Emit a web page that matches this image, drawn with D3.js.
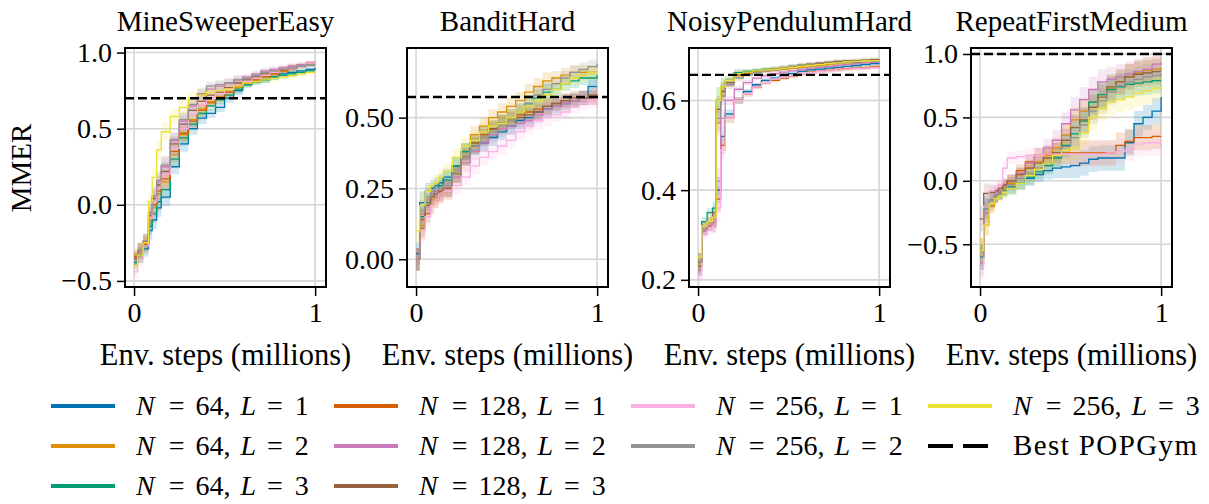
<!DOCTYPE html>
<html>
<head>
<meta charset="utf-8">
<script src="https://cdn.jsdelivr.net/npm/d3@7"></script>
<style>
  body { margin: 0; background: #fff; }
  text { font-family: "Liberation Serif", "Times New Roman", serif; fill: #000; }
</style>
</head>
<body>
<div id="chart"></div>
<script>
// env steps (millions) at which every curve is sampled
const steps = [0, 0.02, 0.05, 0.08, 0.1, 0.125, 0.15, 0.2, 0.25, 0.3, 0.35, 0.4, 0.45, 0.5, 0.55, 0.6, 0.65, 0.7, 0.75, 0.8, 0.85, 0.9, 0.95, 1.0];

// series order: (64,1) (64,2) (64,3) (128,1) (128,2) (128,3) (256,1) (256,2) (256,3)
const configs = [[64, 1], [64, 2], [64, 3], [128, 1], [128, 2], [128, 3], [256, 1], [256, 2], [256, 3]];
const colors = ["#0173b2", "#de8f05", "#029e73", "#d55e00", "#cc78bc", "#956340", "#fbafe4", "#949494", "#ece133"];

const titles = ["MineSweeperEasy", "BanditHard", "NoisyPendulumHard", "RepeatFirstMedium"];
const bestPopgym = [0.70, 0.573, 0.657, 1.0];

const mineSweeperEasy = [
  [-0.36, -0.33, -0.29, -0.17, -0.10, -0.02, 0.05, 0.25, 0.40, 0.50, 0.57, 0.60, 0.64, 0.70, 0.75, 0.79, 0.81, 0.82, 0.84, 0.86, 0.87, 0.88, 0.89, 0.90],
  [-0.33, -0.30, -0.25, -0.10, -0.02, 0.07, 0.15, 0.33, 0.46, 0.56, 0.63, 0.68, 0.71, 0.74, 0.77, 0.80, 0.82, 0.84, 0.86, 0.88, 0.90, 0.91, 0.93, 0.94],
  [-0.38, -0.33, -0.27, -0.14, -0.06, 0.02, 0.10, 0.30, 0.44, 0.53, 0.60, 0.65, 0.69, 0.72, 0.76, 0.79, 0.81, 0.82, 0.84, 0.85, 0.86, 0.87, 0.88, 0.88],
  [-0.34, -0.31, -0.26, -0.09, 0.00, 0.09, 0.17, 0.35, 0.47, 0.55, 0.62, 0.67, 0.70, 0.74, 0.78, 0.80, 0.82, 0.84, 0.86, 0.88, 0.90, 0.92, 0.93, 0.94],
  [-0.37, -0.31, -0.24, -0.06, 0.05, 0.15, 0.25, 0.42, 0.55, 0.65, 0.72, 0.76, 0.78, 0.80, 0.82, 0.84, 0.86, 0.88, 0.89, 0.90, 0.91, 0.92, 0.93, 0.93],
  [-0.35, -0.30, -0.24, -0.07, 0.04, 0.13, 0.22, 0.40, 0.53, 0.62, 0.68, 0.72, 0.74, 0.77, 0.80, 0.82, 0.84, 0.86, 0.87, 0.89, 0.90, 0.91, 0.92, 0.92],
  [-0.44, -0.36, -0.27, -0.09, 0.02, 0.11, 0.20, 0.37, 0.50, 0.60, 0.66, 0.70, 0.73, 0.76, 0.79, 0.81, 0.83, 0.85, 0.87, 0.89, 0.90, 0.91, 0.93, 0.94],
  [-0.36, -0.30, -0.24, -0.05, 0.06, 0.16, 0.26, 0.43, 0.56, 0.66, 0.73, 0.78, 0.79, 0.80, 0.82, 0.83, 0.85, 0.87, 0.88, 0.89, 0.90, 0.91, 0.92, 0.92],
  [-0.40, -0.33, -0.25, 0.02, 0.18, 0.36, 0.48, 0.58, 0.64, 0.70, 0.72, 0.74, 0.75, 0.76, 0.78, 0.80, 0.81, 0.82, 0.83, 0.84, 0.85, 0.86, 0.87, 0.88]
];

const banditHard = [
  [0.02, 0.20, 0.24, 0.25, 0.26, 0.27, 0.29, 0.33, 0.38, 0.40, 0.41, 0.43, 0.45, 0.47, 0.49, 0.50, 0.52, 0.53, 0.54, 0.55, 0.56, 0.57, 0.61, 0.61],
  [0.00, 0.12, 0.19, 0.21, 0.22, 0.23, 0.24, 0.30, 0.38, 0.44, 0.47, 0.50, 0.52, 0.54, 0.56, 0.59, 0.61, 0.63, 0.64, 0.65, 0.66, 0.66, 0.66, 0.66],
  [0.00, 0.15, 0.20, 0.23, 0.24, 0.26, 0.28, 0.33, 0.38, 0.41, 0.44, 0.46, 0.48, 0.50, 0.52, 0.55, 0.57, 0.59, 0.60, 0.62, 0.63, 0.64, 0.64, 0.65],
  [0.00, 0.11, 0.16, 0.19, 0.21, 0.23, 0.25, 0.30, 0.36, 0.41, 0.44, 0.46, 0.48, 0.50, 0.51, 0.52, 0.53, 0.54, 0.55, 0.56, 0.56, 0.57, 0.57, 0.58],
  [0.00, 0.16, 0.21, 0.23, 0.24, 0.25, 0.25, 0.29, 0.34, 0.38, 0.41, 0.44, 0.46, 0.47, 0.48, 0.49, 0.51, 0.53, 0.54, 0.55, 0.56, 0.57, 0.57, 0.58],
  [0.00, 0.14, 0.19, 0.22, 0.23, 0.24, 0.25, 0.30, 0.36, 0.40, 0.43, 0.46, 0.48, 0.49, 0.50, 0.51, 0.52, 0.54, 0.55, 0.56, 0.57, 0.57, 0.58, 0.58],
  [0.00, 0.10, 0.15, 0.19, 0.21, 0.23, 0.24, 0.26, 0.29, 0.33, 0.36, 0.38, 0.40, 0.42, 0.45, 0.47, 0.49, 0.50, 0.51, 0.52, 0.54, 0.55, 0.56, 0.57],
  [0.00, 0.17, 0.22, 0.24, 0.25, 0.25, 0.26, 0.30, 0.36, 0.40, 0.43, 0.45, 0.47, 0.49, 0.52, 0.55, 0.58, 0.60, 0.62, 0.64, 0.66, 0.67, 0.68, 0.69],
  [0.10, 0.19, 0.24, 0.26, 0.27, 0.29, 0.31, 0.36, 0.40, 0.42, 0.45, 0.47, 0.48, 0.50, 0.52, 0.54, 0.56, 0.58, 0.60, 0.62, 0.64, 0.65, 0.66, 0.665]
];

const noisyPendulumHard = [
  [0.23, 0.31, 0.32, 0.33, 0.40, 0.52, 0.57, 0.60, 0.62, 0.635, 0.645, 0.65, 0.655, 0.66, 0.665, 0.668, 0.67, 0.672, 0.674, 0.676, 0.678, 0.68, 0.682, 0.683],
  [0.24, 0.32, 0.33, 0.34, 0.55, 0.62, 0.64, 0.655, 0.66, 0.663, 0.666, 0.668, 0.67, 0.672, 0.674, 0.676, 0.678, 0.68, 0.682, 0.684, 0.685, 0.686, 0.687, 0.688],
  [0.24, 0.33, 0.35, 0.36, 0.60, 0.63, 0.645, 0.662, 0.665, 0.667, 0.669, 0.671, 0.673, 0.675, 0.677, 0.679, 0.681, 0.683, 0.684, 0.685, 0.686, 0.687, 0.688, 0.689],
  [0.23, 0.31, 0.32, 0.32, 0.38, 0.50, 0.56, 0.60, 0.615, 0.63, 0.64, 0.645, 0.65, 0.655, 0.66, 0.663, 0.665, 0.667, 0.669, 0.671, 0.672, 0.673, 0.675, 0.677],
  [0.22, 0.31, 0.32, 0.33, 0.42, 0.56, 0.60, 0.625, 0.64, 0.65, 0.655, 0.66, 0.663, 0.666, 0.669, 0.672, 0.674, 0.676, 0.678, 0.68, 0.682, 0.684, 0.685, 0.686],
  [0.24, 0.32, 0.33, 0.35, 0.58, 0.62, 0.64, 0.658, 0.662, 0.665, 0.668, 0.67, 0.673, 0.676, 0.679, 0.681, 0.683, 0.685, 0.687, 0.688, 0.689, 0.69, 0.691, 0.692],
  [0.21, 0.30, 0.31, 0.32, 0.36, 0.49, 0.56, 0.60, 0.615, 0.63, 0.64, 0.648, 0.652, 0.656, 0.66, 0.662, 0.664, 0.666, 0.668, 0.67, 0.671, 0.672, 0.673, 0.674],
  [0.24, 0.32, 0.33, 0.34, 0.56, 0.61, 0.635, 0.65, 0.657, 0.662, 0.666, 0.669, 0.672, 0.675, 0.677, 0.679, 0.681, 0.683, 0.684, 0.685, 0.686, 0.687, 0.688, 0.689],
  [0.25, 0.32, 0.33, 0.34, 0.60, 0.63, 0.645, 0.66, 0.663, 0.666, 0.668, 0.67, 0.672, 0.674, 0.676, 0.678, 0.68, 0.682, 0.684, 0.686, 0.687, 0.688, 0.689, 0.69]
];

const repeatFirstMedium = [
  [-0.60, -0.22, -0.15, -0.12, -0.10, -0.07, -0.05, -0.02, 0.02, 0.05, 0.08, 0.10, 0.11, 0.12, 0.14, 0.17, 0.18, 0.18, 0.18, 0.30, 0.45, 0.50, 0.55, 0.66],
  [-0.55, -0.35, -0.20, -0.12, -0.10, -0.06, -0.02, 0.05, 0.10, 0.15, 0.20, 0.26, 0.36, 0.48, 0.55, 0.62, 0.68, 0.73, 0.78, 0.82, 0.85, 0.87, 0.88, 0.89],
  [-0.60, -0.20, -0.15, -0.12, -0.10, -0.08, -0.06, -0.02, 0.03, 0.07, 0.12, 0.18, 0.28, 0.37, 0.47, 0.62, 0.68, 0.72, 0.74, 0.76, 0.77, 0.78, 0.79, 0.79],
  [-0.55, -0.25, -0.18, -0.12, -0.08, -0.04, 0.00, 0.08, 0.15, 0.20, 0.21, 0.22, 0.22, 0.22, 0.22, 0.22, 0.22, 0.22, 0.28, 0.31, 0.34, 0.34, 0.35, 0.35],
  [-0.65, -0.25, -0.15, -0.10, -0.08, -0.04, 0.00, 0.06, 0.14, 0.20, 0.26, 0.32, 0.45, 0.56, 0.64, 0.72, 0.78, 0.80, 0.82, 0.84, 0.86, 0.88, 0.92, 0.93],
  [-0.30, -0.10, -0.09, -0.08, -0.06, -0.03, 0.00, 0.05, 0.10, 0.14, 0.18, 0.22, 0.32, 0.42, 0.48, 0.58, 0.66, 0.74, 0.78, 0.82, 0.84, 0.85, 0.86, 0.86],
  [-0.68, -0.20, -0.08, -0.05, -0.03, 0.10, 0.18, 0.19, 0.20, 0.20, 0.21, 0.21, 0.21, 0.21, 0.21, 0.21, 0.21, 0.22, 0.23, 0.25, 0.29, 0.30, 0.30, 0.30],
  [-0.60, -0.22, -0.15, -0.12, -0.10, -0.07, -0.03, 0.02, 0.06, 0.10, 0.14, 0.19, 0.27, 0.34, 0.44, 0.55, 0.63, 0.70, 0.75, 0.78, 0.80, 0.82, 0.83, 0.84],
  [-0.55, -0.35, -0.18, -0.14, -0.12, -0.09, -0.06, -0.02, 0.04, 0.09, 0.14, 0.20, 0.24, 0.26, 0.38, 0.50, 0.57, 0.62, 0.64, 0.66, 0.69, 0.71, 0.73, 0.74]
];

// half width of the shaded band around each curve
const spreadMSE = [0.04, 0.05, 0.05, 0.06, 0.06, 0.06, 0.06, 0.05, 0.05, 0.04, 0.04, 0.03, 0.03, 0.03, 0.03, 0.02, 0.02, 0.02, 0.02, 0.02, 0.02, 0.015, 0.015, 0.015];
const spreadBH = [0.04, 0.04, 0.03, 0.03, 0.03, 0.03, 0.03, 0.03, 0.03, 0.03, 0.03, 0.03, 0.03, 0.03, 0.03, 0.03, 0.03, 0.03, 0.025, 0.025, 0.025, 0.025, 0.025, 0.025];
const spreadNPH = [0.02, 0.01, 0.01, 0.015, 0.03, 0.02, 0.01, 0.008, 0.006, 0.005, 0.005, 0.005, 0.005, 0.005, 0.005, 0.005, 0.005, 0.005, 0.005, 0.005, 0.005, 0.005, 0.005, 0.005];
const spreadRFM = [0.1, 0.08, 0.06, 0.05, 0.05, 0.05, 0.05, 0.05, 0.06, 0.06, 0.07, 0.08, 0.09, 0.1, 0.1, 0.1, 0.1, 0.1, 0.1, 0.1, 0.1, 0.1, 0.1, 0.1];

const yTicks = [[-0.5, 0, 0.5, 1.0], [0, 0.25, 0.5], [0.2, 0.4, 0.6], [-0.5, 0, 0.5, 1.0]];
const yTickLabels = [["\u22120.5", "0.0", "0.5", "1.0"], ["0.00", "0.25", "0.50"], ["0.2", "0.4", "0.6"], ["\u22120.5", "0.0", "0.5", "1.0"]];
const yDomains = [[-0.54, 1.03], [-0.098, 0.746], [0.184, 0.717], [-0.837, 1.047]];

const panelData = [mineSweeperEasy, banditHard, noisyPendulumHard, repeatFirstMedium];
const panelSpread = [spreadMSE, spreadBH, spreadNPH, spreadRFM];

// layout
const panelLeft = [125, 407, 689, 971];
const panelTop = 48, panelW = 201, panelH = 239;

const svg = d3.select("#chart")
  .append("svg")
    .attr("width", 1209)
    .attr("height", 504);

svg.append("rect").attr("width", 1209).attr("height", 504).attr("fill", "#fff");

panelData.forEach((data, p) => {
  const g = svg.append("g")
    .attr("transform", `translate(${panelLeft[p]}, ${panelTop})`);

  const x = d3.scaleLinear().domain([-0.05, 1.06]).range([0, panelW]);
  const y = d3.scaleLinear().domain(yDomains[p]).range([panelH, 0]);

  // grid
  g.selectAll(".hgrid").data(yTicks[p]).enter().append("line")
    .attr("x1", 0).attr("x2", panelW)
    .attr("y1", d => y(d)).attr("y2", d => y(d))
    .attr("stroke", "#d6d6d6").attr("stroke-width", 1.6);
  g.selectAll(".vgrid").data([0, 1]).enter().append("line")
    .attr("y1", 0).attr("y2", panelH)
    .attr("x1", d => x(d)).attr("x2", d => x(d))
    .attr("stroke", "#d6d6d6").attr("stroke-width", 1.6);

  const clipId = "clip" + p;
  g.append("clipPath").attr("id", clipId)
    .append("rect").attr("width", panelW).attr("height", panelH);
  const plot = g.append("g").attr("clip-path", `url(#${clipId})`);

  const spread = panelSpread[p];
  const band = d3.area()
    .x((d, i) => x(steps[i]))
    .y0((d, i) => y(d - spread[i]))
    .y1((d, i) => y(d + spread[i]))
    .curve(d3.curveStepAfter);
  const line = d3.line()
    .x((d, i) => x(steps[i]))
    .y(d => y(d))
    .curve(d3.curveStepAfter);

  plot.selectAll(".band").data(data).enter().append("path")
    .attr("d", band)
    .attr("fill", (d, i) => colors[i])
    .attr("fill-opacity", 0.18);
  plot.selectAll(".curve").data(data).enter().append("path")
    .attr("d", line)
    .attr("fill", "none")
    .attr("stroke", (d, i) => colors[i])
    .attr("stroke-width", 1.3);

  // best POPGym reference
  plot.append("line")
    .attr("x1", 0).attr("x2", panelW)
    .attr("y1", y(bestPopgym[p])).attr("y2", y(bestPopgym[p]))
    .attr("stroke", "#000").attr("stroke-width", 2.4)
    .attr("stroke-dasharray", "9,4");

  // axes
  const yAxis = g.append("g")
    .call(d3.axisLeft(y).tickValues(yTicks[p]).tickFormat((d, i) => yTickLabels[p][i]).tickSize(8).tickPadding(5));
  const xAxis = g.append("g")
    .attr("transform", `translate(0, ${panelH})`)
    .call(d3.axisBottom(x).tickValues([0, 1]).tickFormat(d3.format("d")).tickSize(9).tickPadding(6));
  [yAxis, xAxis].forEach(a => {
    a.select(".domain").remove();
    a.selectAll(".tick line").attr("stroke", "#000").attr("stroke-width", 1.5);
    a.selectAll(".tick text")
      .attr("fill", "#000")
      .style("font-family", '"Liberation Serif", serif')
      .style("font-size", "28px");
  });

  g.append("rect")
    .attr("width", panelW).attr("height", panelH)
    .attr("fill", "none").attr("stroke", "#000").attr("stroke-width", 2);

  g.append("text")
    .attr("x", panelW / 2).attr("y", -17)
    .attr("text-anchor", "middle")
    .style("font-size", "29px")
    .text(titles[p]);

  g.append("text")
    .attr("x", panelW / 2).attr("y", 317)
    .attr("text-anchor", "middle")
    .style("font-size", "30.5px")
    .text("Env. steps (millions)");
});

svg.append("text")
  .attr("transform", "translate(31, 168) rotate(-90)")
  .attr("text-anchor", "middle")
  .style("font-size", "29px")
  .text("MMER");

// legend, 3 rows filled column by column
const legendHandleX = [51, 334, 631, 928];
const legendTextX = [136, 419, 716, 1013];
const legendRowY = [406, 446, 486];
const legendItems = configs.map((c, i) => ({ n: c[0], l: c[1], color: colors[i] }));
legendItems.push({ best: true });
const legendCols = [[0, 1, 2], [3, 4, 5], [6, 7], [8, 9]];

const legend = svg.append("g");
legendCols.forEach((col, c) => {
  col.forEach((idx, r) => {
    const item = legendItems[idx];
    const cy = legendRowY[r];
    const h = legend.append("line")
      .attr("x1", legendHandleX[c]).attr("x2", legendHandleX[c] + 64)
      .attr("y1", cy).attr("y2", cy)
      .attr("stroke-width", 4.2);
    const t = legend.append("text")
      .attr("x", legendTextX[c]).attr("y", cy + 9)
      .style("font-size", "28px");
    if (item.best) {
      h.attr("stroke", "#000").attr("stroke-dasharray", "25,10");
      t.style("font-size", "29px").style("letter-spacing", "1.4px").text("Best POPGym");
    } else {
      // math-style spacing around "=" and after the comma
      h.attr("stroke", item.color);
      t.append("tspan").style("font-style", "italic").text("N");
      t.append("tspan").attr("dx", 14).text("=");
      t.append("tspan").attr("dx", 11).text(`${item.n},`);
      t.append("tspan").attr("dx", 10).style("font-style", "italic").text("L");
      t.append("tspan").attr("dx", 11).text("=");
      t.append("tspan").attr("dx", 12).text(`${item.l}`);
    }
  });
});
</script>
</body>
</html>
